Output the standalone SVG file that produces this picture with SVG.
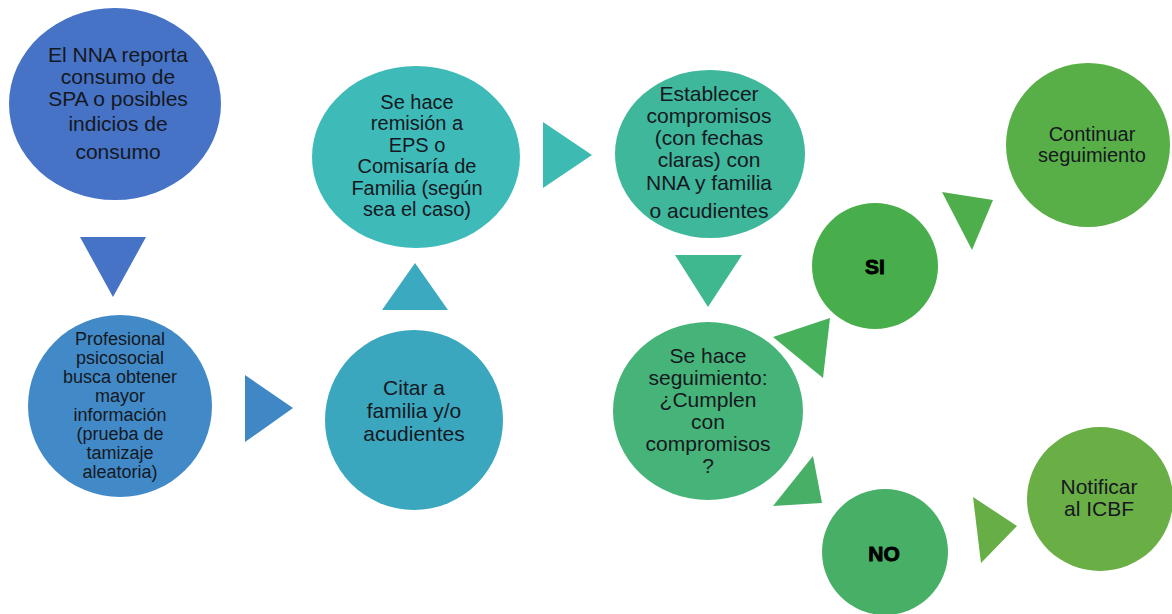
<svg xmlns="http://www.w3.org/2000/svg" width="1172" height="614" viewBox="0 0 1172 614">
<style>
.t{font-family:"Liberation Sans",Arial,sans-serif;font-size:21px;fill:#15181f;text-anchor:middle}
.s{font-size:18px}
.b{font-weight:bold;stroke:#000;stroke-width:0.9;fill:#000}
</style>
<rect width="1172" height="614" fill="#fff"/>
<g id="connectors">
<polygon points="80,237 146,237 113,297" fill="#4673C5"/>
<polygon points="245,375 293,408 245,442" fill="#3F88C5"/>
<polygon points="382,310 448,310 415,263" fill="#3BA9BF"/>
<polygon points="543,122 592,155 543,188" fill="#3DBAB1"/>
<polygon points="675,255 742,255 708,307" fill="#40B88F"/>
<polygon points="773,337 830,318 823,378" fill="#47B05B"/>
<polygon points="813,456 773,506 822,503" fill="#47B066"/>
<polygon points="942,192 993,200 972,250" fill="#4FAE4C"/>
<polygon points="973,497 1017,526 981,563" fill="#66AE45"/>
</g>
<g id="n1"><ellipse cx="115" cy="104" rx="106" ry="96" fill="#4673C6"/>
<text class="t"><tspan x="118" y="62">El NNA reporta</tspan><tspan x="118" y="84">consumo de</tspan><tspan x="118" y="106">SPA o posibles</tspan><tspan x="118" y="131">indicios de</tspan><tspan x="118" y="159">consumo</tspan></text></g>
<g id="n2"><ellipse cx="120" cy="406" rx="92" ry="91" fill="#418AC7"/>
<text class="t s"><tspan x="120" y="345">Profesional</tspan><tspan x="120" y="364">psicosocial</tspan><tspan x="120" y="383">busca obtener</tspan><tspan x="120" y="402">mayor</tspan><tspan x="120" y="421">información</tspan><tspan x="120" y="440">(prueba de</tspan><tspan x="120" y="459">tamizaje</tspan><tspan x="120" y="478">aleatoria)</tspan></text></g>
<g id="n3"><ellipse cx="414" cy="420" rx="89" ry="90" fill="#3AA7BE"/>
<text class="t"><tspan x="414" y="395">Citar a</tspan><tspan x="414" y="418">familia y/o</tspan><tspan x="414" y="441">acudientes</tspan></text></g>
<g id="n4"><ellipse cx="416" cy="157" rx="104" ry="91" fill="#3EBBB8"/>
<text class="t" style="font-size:20px"><tspan x="417" y="109">Se hace</tspan><tspan x="417" y="130">remisión a</tspan><tspan x="417" y="152">EPS o</tspan><tspan x="417" y="173">Comisaría de</tspan><tspan x="417" y="195">Familia (según</tspan><tspan x="417" y="216">sea el caso)</tspan></text></g>
<g id="n5"><ellipse cx="710" cy="154" rx="95" ry="84" fill="#3EB79B"/>
<text class="t"><tspan x="709" y="101">Establecer</tspan><tspan x="709" y="123">compromisos</tspan><tspan x="709" y="145">(con fechas</tspan><tspan x="709" y="167">claras) con</tspan><tspan x="709" y="190">NNA y familia</tspan><tspan x="709" y="218">o acudientes</tspan></text></g>
<g id="n6"><ellipse cx="708" cy="411" rx="95" ry="89" fill="#46B478"/>
<text class="t"><tspan x="708" y="363">Se hace</tspan><tspan x="708" y="385">seguimiento:</tspan><tspan x="708" y="407">¿Cumplen</tspan><tspan x="708" y="429">con</tspan><tspan x="708" y="451">compromisos</tspan><tspan x="708" y="473">?</tspan></text></g>
<g id="si"><circle cx="875" cy="266" r="63" fill="#48AE4C"/>
<text class="t b" x="875" y="274" style="font-size:21px">SI</text></g>
<g id="no"><circle cx="885" cy="552" r="63" fill="#48B066"/>
<text class="t b" x="884" y="561" style="font-size:21px">NO</text></g>
<g id="continuar"><ellipse cx="1088" cy="145" rx="82" ry="82" fill="#58AF48"/>
<text class="t" style="font-size:20px"><tspan x="1092" y="141">Continuar</tspan><tspan x="1092" y="162">seguimiento</tspan></text></g>
<g id="notificar"><ellipse cx="1100" cy="499" rx="73" ry="72" fill="#6AAE46"/>
<text class="t"><tspan x="1099" y="494">Notificar</tspan><tspan x="1099" y="516">al ICBF</tspan></text></g>
</svg>
